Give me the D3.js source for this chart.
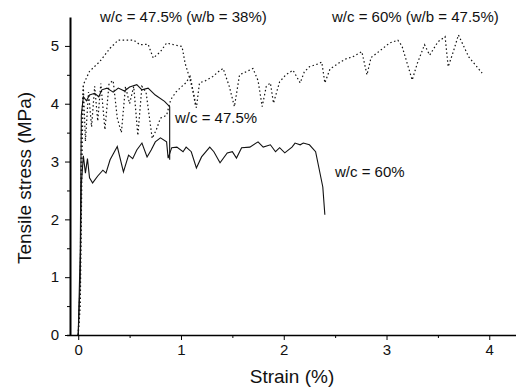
<!DOCTYPE html>
<html>
<head>
<meta charset="utf-8">
<script src="https://cdn.jsdelivr.net/npm/d3@7"></script>
<style>
  body { margin: 0; background: #fff; }
  svg { font-family: "Liberation Sans", Arial, sans-serif; }
</style>
</head>
<body>
<svg id="chart" width="530" height="390"></svg>
<script>
// strain (%) / tensile stress (MPa)
const wc475Dotted = [
  [0,0],[0.02,1.0],[0.03,3.5],[0.05,4.33],[0.11,4.56],[0.21,4.73],[0.31,4.96],[0.39,5.1],
  [0.54,5.1],[0.6,5.02],[0.68,5.03],[0.73,4.79],[0.8,4.9],[0.86,5.05],[0.93,5.02],
  [1.01,4.99],[1.04,4.7],[1.09,4.41],[1.12,4.18],[1.14,3.98]
];
const wc60Dotted = [
  [0,0],[0.02,0.5],[0.04,3.4],[0.05,4.3],[0.07,3.35],[0.1,4.2],[0.13,3.6],[0.16,4.3],
  [0.19,3.7],[0.22,4.35],[0.26,3.55],[0.3,4.35],[0.34,4.4],[0.38,3.75],[0.42,3.5],
  [0.46,4.3],[0.5,4.0],[0.54,4.3],[0.58,3.45],[0.62,4.3],[0.66,4.2],[0.72,3.4],
  [0.76,3.55],[0.8,3.75],[0.86,3.8],[0.9,4.07],[0.95,4.2],[0.99,4.27],[1.04,4.35],
  [1.09,4.47],[1.15,3.93],[1.18,4.36],[1.24,4.4],[1.31,4.47],[1.36,4.55],[1.41,4.61],
  [1.47,4.3],[1.52,3.95],[1.57,4.5],[1.63,4.55],[1.7,4.61],[1.75,4.4],[1.79,3.95],
  [1.83,4.3],[1.87,4.36],[1.9,4.01],[1.96,4.38],[2.02,4.5],[2.09,4.58],[2.16,4.36],
  [2.2,4.55],[2.25,4.64],[2.32,4.68],[2.37,4.72],[2.4,4.36],[2.45,4.6],[2.55,4.72],
  [2.61,4.78],[2.67,4.81],[2.76,4.9],[2.81,4.5],[2.85,4.8],[2.91,4.88],[2.96,4.95],
  [3.03,5.05],[3.11,5.1],[3.15,5.0],[3.25,4.41],[3.3,4.7],[3.37,5.02],[3.42,4.84],
  [3.5,5.07],[3.57,5.16],[3.6,4.64],[3.65,4.9],[3.7,5.19],[3.8,4.81],[3.93,4.53]
];
const wc475Solid = [
  [0,0],[0.02,1.5],[0.03,3.8],[0.05,4.12],[0.08,4.05],[0.11,4.15],[0.16,4.18],[0.2,4.12],
  [0.23,4.24],[0.28,4.27],[0.34,4.2],[0.39,4.27],[0.45,4.22],[0.5,4.29],[0.57,4.33],
  [0.62,4.24],[0.68,4.27],[0.75,4.15],[0.84,4.04],[0.89,3.95],[0.89,3.03]
];
const wc60Solid = [
  [0,0],[0.02,1.0],[0.03,2.6],[0.05,3.1],[0.07,2.8],[0.09,3.05],[0.11,2.72],[0.14,2.63],
  [0.19,2.75],[0.24,2.85],[0.27,2.8],[0.31,3.03],[0.38,3.26],[0.44,2.82],[0.49,3.11],
  [0.53,3.05],[0.57,3.2],[0.62,3.32],[0.67,3.08],[0.71,3.2],[0.75,3.34],[0.8,3.41],
  [0.86,3.34],[0.875,3.06],[0.91,3.24],[0.96,3.25],[1.02,3.17],[1.05,3.25],[1.1,3.17],
  [1.15,2.89],[1.2,3.08],[1.28,3.25],[1.32,3.17],[1.38,2.98],[1.45,3.15],[1.5,3.17],
  [1.54,3.06],[1.59,3.24],[1.67,3.25],[1.75,3.34],[1.8,3.25],[1.87,3.29],[1.92,3.17],
  [1.96,3.24],[2.01,3.15],[2.08,3.25],[2.11,3.32],[2.16,3.29],[2.19,3.32],[2.25,3.29],
  [2.31,3.17],[2.34,2.91],[2.38,2.56],[2.4,2.08]
];
const xTicks = [0, 1, 2, 3, 4];
const yTicks = [0, 1, 2, 3, 4, 5];

const svg = d3.select("#chart");
const x = d3.scaleLinear().domain([-0.08, 4.26]).range([70, 516]);
const y = d3.scaleLinear().domain([0, 5.5]).range([335, 17]);

const line = d3.line().x(d => x(d[0])).y(d => y(d[1]));

// curves
[wc475Dotted, wc60Dotted].forEach(s => {
  svg.append("path").datum(s).attr("d", line)
     .attr("fill", "none").attr("stroke", "#111").attr("stroke-width", 1.2)
     .attr("stroke-dasharray", "1.5,2.5");
});
[wc475Solid, wc60Solid].forEach(s => {
  svg.append("path").datum(s).attr("d", line)
     .attr("fill", "none").attr("stroke", "#111").attr("stroke-width", 1.1);
});

// axes, minor ticks first
const minorX = d3.range(0.5, 4.3, 1);
const minorY = d3.range(0.5, 5.5, 1);

svg.append("g").attr("transform", "translate(0,335)")
   .call(d3.axisBottom(x).tickValues(minorX).tickSize(3).tickFormat(""))
   .call(g => g.select(".domain").remove());
svg.append("g").attr("transform", "translate(70,0)")
   .call(d3.axisLeft(y).tickValues(minorY).tickSize(3).tickFormat(""))
   .call(g => g.select(".domain").remove());

const xAxis = svg.append("g").attr("transform", "translate(0,335)")
   .call(d3.axisBottom(x).tickValues(xTicks).tickFormat(d3.format("d"))
     .tickSize(5).tickSizeOuter(0).tickPadding(4));
xAxis.select(".domain").attr("stroke-width", 1.5).attr("d", "M67,0.5H516");
xAxis.selectAll("text").attr("font-size", 15).attr("fill", "#111");

const yAxis = svg.append("g").attr("transform", "translate(70,0)")
   .call(d3.axisLeft(y).tickValues(yTicks).tickFormat(d3.format("d"))
     .tickSize(5).tickSizeOuter(0).tickPadding(6));
yAxis.select(".domain").attr("stroke-width", 2);
yAxis.selectAll("text").attr("font-size", 15).attr("fill", "#111");

// axis titles
svg.append("text").attr("x", 292).attr("y", 383).attr("text-anchor", "middle")
   .attr("font-size", 19).attr("fill", "#111").text("Strain (%)");
svg.append("text").attr("transform", "translate(31,178) rotate(-90)")
   .attr("text-anchor", "middle").attr("font-size", 19).attr("fill", "#111")
   .text("Tensile stress (MPa)");

// curve labels
const labels = [
  { t: "w/c = 47.5% (w/b = 38%)", x: 100, y: 22 },
  { t: "w/c = 60% (w/b = 47.5%)", x: 332, y: 22 },
  { t: "w/c = 47.5%", x: 175, y: 123 },
  { t: "w/c = 60%", x: 335, y: 177 }
];
svg.selectAll(".lbl").data(labels).join("text").attr("class", "lbl")
   .attr("x", d => d.x).attr("y", d => d.y)
   .attr("font-size", 15).attr("fill", "#111").text(d => d.t);
</script>
</body>
</html>
